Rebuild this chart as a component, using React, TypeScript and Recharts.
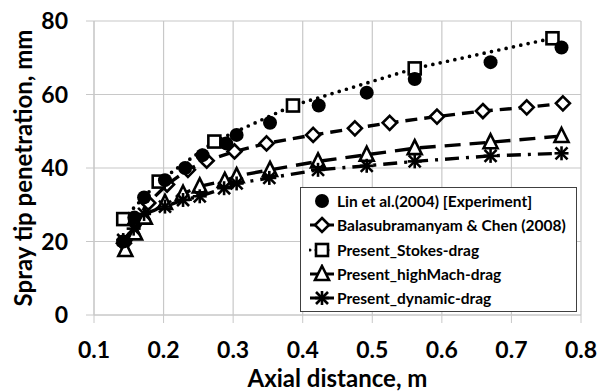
import { ComposedChart, Line, XAxis, YAxis, CartesianGrid, Legend } from 'recharts'

// Axial distance (m) / penetration (mm) for each data set
const linX = [0.142, 0.158, 0.172, 0.202, 0.231, 0.256, 0.29, 0.305, 0.353, 0.423, 0.492, 0.561, 0.67, 0.772]
const linY = [20, 26.5, 32, 36.7, 40, 43.5, 46.7, 49, 52.3, 57, 60.5, 64.2, 68.8, 72.8]

const balaX = [0.143, 0.16, 0.178, 0.205, 0.235, 0.262, 0.302, 0.348, 0.415, 0.475, 0.525, 0.593, 0.659, 0.722, 0.774]
const balaY = [19.5, 25.5, 30.5, 35.5, 39.5, 42, 44.5, 46.7, 49, 50.8, 52.3, 54, 55.5, 56.5, 57.6]

const stokesX = [0.142, 0.193, 0.273, 0.386, 0.561, 0.759]
const stokesY = [26.1, 36.3, 47.2, 57, 67.1, 75.3]

const machX = [0.145, 0.159, 0.173, 0.202, 0.228, 0.252, 0.288, 0.305, 0.353, 0.422, 0.492, 0.561, 0.67, 0.772]
const machY = [17.7, 22.2, 26.5, 30.5, 33, 35, 36.5, 37.8, 39.5, 41.8, 43.6, 45.4, 47, 48.7]

const dynX = [0.142, 0.157, 0.172, 0.202, 0.228, 0.252, 0.287, 0.305, 0.352, 0.422, 0.492, 0.561, 0.67, 0.772]
const dynY = [20.4, 23.5, 27.5, 29.5, 31.3, 32.3, 34.5, 35.8, 37.3, 39.5, 40.6, 41.8, 43.3, 44]

const xTicks = [0.1, 0.2, 0.3, 0.4, 0.5, 0.6, 0.7, 0.8]
const yTicks = [0, 20, 40, 60, 80]

const FONT = 'Lato, "Open Sans", sans-serif'
const GRID = '#c8c8c8'

type Kind = 'circle' | 'diamond' | 'square' | 'triangle' | 'star'

const pts = (xs: number[], ys: number[]) => xs.map((x, i) => ({ x, y: ys[i] }))

function Marker({ kind, cx, cy }: { kind: Kind; cx: number; cy: number }) {
  const s = 7
  const common = { fill: '#fff', stroke: '#000', strokeWidth: 2.6 }
  switch (kind) {
    case 'circle':
      return <circle cx={cx} cy={cy} r={7} fill="#000" />
    case 'diamond':
      return <polygon points={`${cx},${cy - s} ${cx + s},${cy} ${cx},${cy + s} ${cx - s},${cy}`} {...common} />
    case 'square':
      return <rect x={cx - 6} y={cy - 6} width={12} height={12} {...common} />
    case 'triangle':
      return <polygon points={`${cx},${cy - 8} ${cx + 7},${cy + 6} ${cx - 7},${cy + 6}`} {...common} />
    case 'star':
      return (
        <g stroke="#000" strokeWidth={2.6}>
          <line x1={cx - 6} y1={cy - 6} x2={cx + 6} y2={cy + 6} />
          <line x1={cx - 6} y1={cy + 6} x2={cx + 6} y2={cy - 6} />
          <line x1={cx - 7} y1={cy} x2={cx + 7} y2={cy} />
          <line x1={cx} y1={cy - 7} x2={cx} y2={cy + 7} />
        </g>
      )
  }
}

const dotOf = (kind: Kind) => (p: any) => <Marker key={`${kind}-${p.index}`} kind={kind} cx={p.cx} cy={p.cy} />

const legendRows: { name: string; kind: Kind; dash?: string }[] = [
  { name: 'Lin et al.(2004) [Experiment]', kind: 'circle' },
  { name: 'Balasubramanyam & Chen (2008)', kind: 'diamond', dash: '' },
  { name: 'Present_Stokes-drag', kind: 'square', dash: '0 6' },
  { name: 'Present_highMach-drag', kind: 'triangle', dash: '' },
  { name: 'Present_dynamic-drag', kind: 'star', dash: '' },
]

function LegendBox() {
  return (
    <div
      style={{
        background: '#fff',
        border: '1px solid #404040',
        width: 277,
        height: 125,
        boxSizing: 'border-box',
        padding: '1px 0 0 8px',
        fontFamily: FONT,
        fontWeight: 700,
        fontSize: 15.5,
        color: '#000',
        whiteSpace: 'nowrap',
      }}
    >
      {legendRows.map((r) => (
        <div key={r.name} style={{ display: 'flex', alignItems: 'center', height: 24.3 }}>
          <svg width={26} height={20} style={{ marginRight: 2 }}>
            {r.dash !== undefined && (
              <line x1={1} y1={10} x2={25} y2={10} stroke="#000" strokeWidth={3} strokeDasharray={r.dash || undefined} strokeLinecap={r.dash ? 'round' : 'butt'} />
            )}
            <Marker kind={r.kind} cx={13} cy={10} />
          </svg>
          <span>{r.name}</span>
        </div>
      ))}
    </div>
  )
}

export default function App() {
  return (
    <div style={{ position: 'absolute', left: 0, top: 0, background: '#fff' }}>
      <ComposedChart width={600} height={392} margin={{ top: 21, right: 19, left: 0, bottom: 0 }}>
        <CartesianGrid stroke={GRID} strokeWidth={1.2} horizontalValues={yTicks} verticalValues={xTicks} />
        <XAxis
          type="number"
          dataKey="x"
          domain={[0.1, 0.8]}
          ticks={xTicks}
          allowDuplicatedCategory={false}
          height={77}
          stroke={GRID}
          tickSize={8}
          tickMargin={19}
          tick={{ fill: '#000', fontFamily: FONT, fontWeight: 700, fontSize: 23 }}
          label={{ value: 'Axial distance, m', position: 'insideBottom', offset: 5, fill: '#000', fontFamily: FONT, fontWeight: 700, fontSize: 24 }}
        />
        <YAxis
          type="number"
          dataKey="y"
          domain={[0, 80]}
          ticks={yTicks}
          width={94}
          stroke={GRID}
          tickSize={8}
          tickMargin={18}
          tick={{ fill: '#000', fontFamily: FONT, fontWeight: 700, fontSize: 23 }}
          label={{ value: 'Spray tip penetration, mm', angle: -90, position: 'insideLeft', offset: 23, style: { textAnchor: 'middle' }, fill: '#000', fontFamily: FONT, fontWeight: 700, fontSize: 24 }}
        />
        <Legend
          layout="vertical"
          align="center"
          verticalAlign="middle"
          wrapperStyle={{ left: 300, top: 187, width: 277, height: 125 }}
          content={() => <LegendBox />}
        />
        <Line data={pts(balaX, balaY)} dataKey="y" stroke="#000" strokeWidth={3.4} strokeDasharray="12 7" dot={dotOf('diamond')} isAnimationActive={false} />
        <Line data={pts(stokesX, stokesY)} dataKey="y" stroke="#000" strokeWidth={3.7} strokeDasharray="0 7.5" strokeLinecap="round" dot={dotOf('square')} isAnimationActive={false} />
        <Line data={pts(machX, machY)} dataKey="y" stroke="#000" strokeWidth={3.4} strokeDasharray="16 9" dot={dotOf('triangle')} isAnimationActive={false} />
        <Line data={pts(dynX, dynY)} dataKey="y" stroke="#000" strokeWidth={3.4} strokeDasharray="14 7 3 7" dot={dotOf('star')} isAnimationActive={false} />
        <Line data={pts(linX, linY)} dataKey="y" stroke="none" dot={dotOf('circle')} isAnimationActive={false} />
      </ComposedChart>
    </div>
  )
}
